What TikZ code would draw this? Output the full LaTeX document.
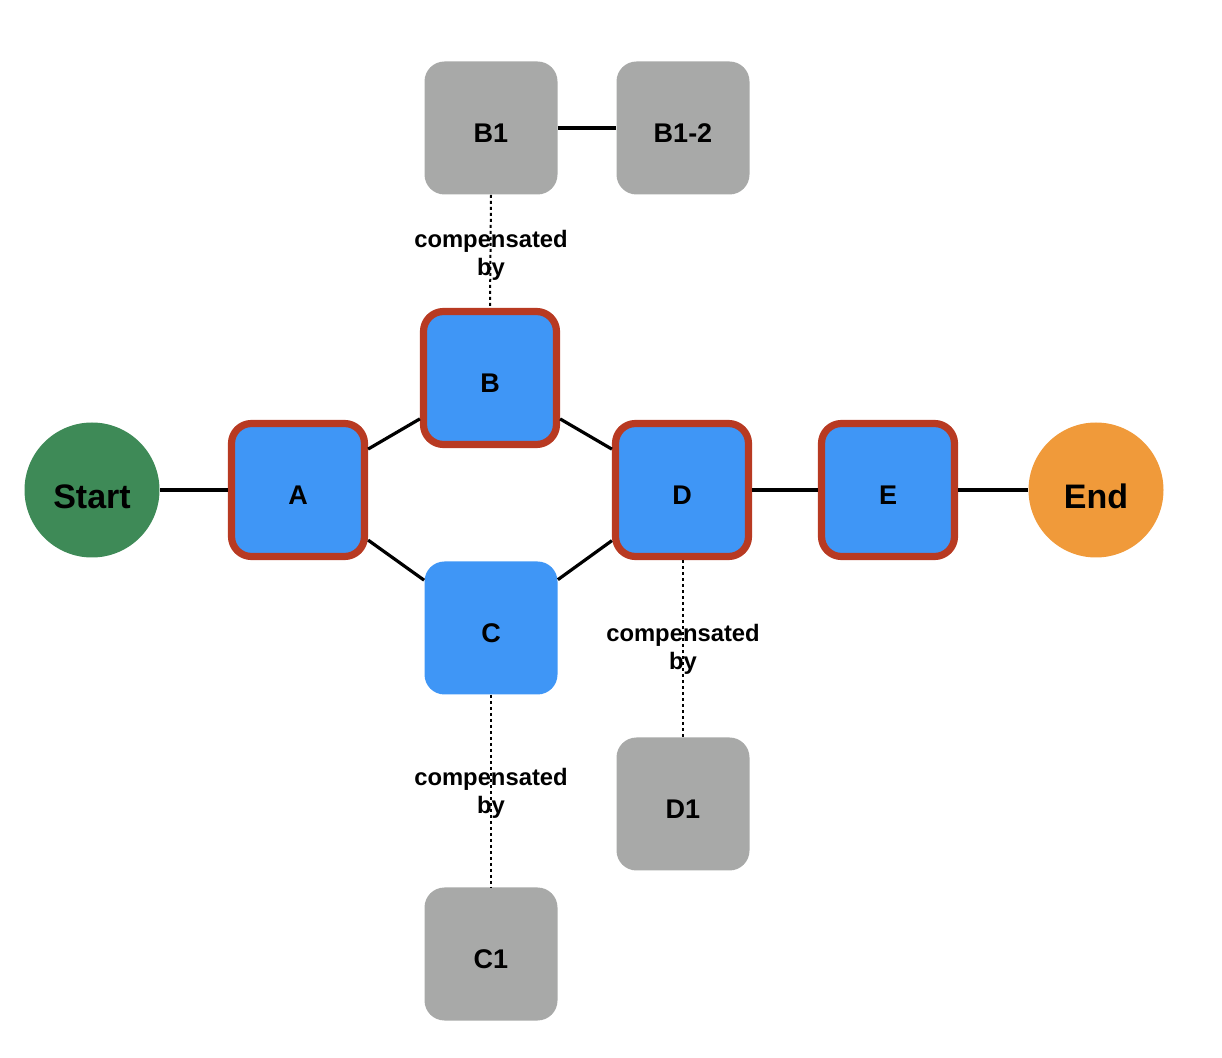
\documentclass[tikz,border=0pt]{standalone}
\usepackage{fontspec}
\setmainfont{Liberation Sans}
\begin{document}
\begin{tikzpicture}[x=0.5pt,y=-0.5pt,
  box/.style={rounded corners=10pt, minimum width=66.5pt, minimum height=66.5pt, inner sep=0pt,
    text height=14.7pt, text depth=0pt,
    font=\bfseries\fontsize{13.5}{16}\selectfont},
  task/.style={box, fill=taskblue},
  hot/.style={task, draw=hotred, line width=3.6pt},
  comp/.style={box, fill=compgray},
  term/.style={circle, minimum size=67.5pt, inner sep=0pt, text height=18.2pt, text depth=0pt,
    font=\bfseries\fontsize{17}{20}\selectfont},
  link/.style={line width=1.6pt},
  comps/.style={line width=1pt, dash pattern=on 1.5pt off 1.5pt},
  note/.style={align=center, font=\bfseries\fontsize{11.9}{14}\selectfont}
]
\definecolor{taskblue}{HTML}{3F96F6}
\definecolor{hotred}{HTML}{B83A22}
\definecolor{compgray}{HTML}{A8A9A8}
\definecolor{startgreen}{HTML}{3E8A57}
\definecolor{endorange}{HTML}{F09A3A}
\useasboundingbox (0,0) rectangle (1222,1058);

% main flow
\node[term, fill=startgreen] (start) at (92,490) {Start};
\node[hot] (a) at (298,490) {A};
\node[hot] (b) at (490,378) {B};
\node[task] (c) at (491,628) {C};
\node[hot] (d) at (682,490) {D};
\node[hot] (e) at (888,490) {E};
\node[term, fill=endorange] (end) at (1096,490) {End};

% compensations
\node[comp] (b1) at (491,128) {B1};
\node[comp] (b12) at (683,128) {B1-2};
\node[comp] (d1) at (683,804) {D1};
\node[comp] (c1) at (491,954) {C1};

\draw[link] (start) -- (a);
\draw[link] (a) -- (b);
\draw[link] (a) -- (c);
\draw[link] (b) -- (d);
\draw[link] (c) -- (d);
\draw[link] (d) -- (e);
\draw[link] (e) -- (end);
\draw[link] (b1) -- (b12);

\node[note] (nb) at (491,255) {compensated\\by};
\node[note] (nd) at (683,649) {compensated\\by};
\node[note] (nc) at (491,793) {compensated\\by};

\draw[comps] (b1.south) -- (b.north);
\draw[comps] (d.south -| d1.north) -- (d1.north);
\draw[comps] (c.south) -- (c1.north);
\end{tikzpicture}
\end{document}
